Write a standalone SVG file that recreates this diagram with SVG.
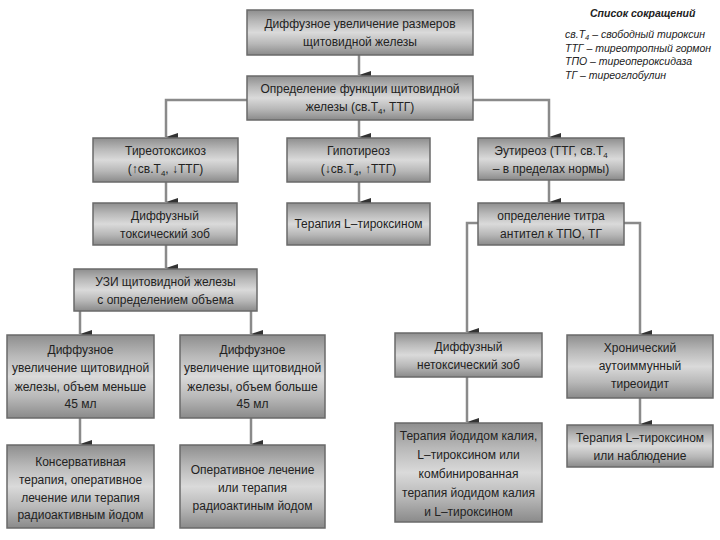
<svg xmlns="http://www.w3.org/2000/svg" width="720" height="540" viewBox="0 0 720 540">
<defs>
<linearGradient id="g" x1="0" y1="0" x2="0" y2="1">
<stop offset="0" stop-color="#8e8e8e"/>
<stop offset="0.25" stop-color="#b8b8b8"/>
<stop offset="0.5" stop-color="#dadada"/>
<stop offset="0.75" stop-color="#b8b8b8"/>
<stop offset="1" stop-color="#8a8a8a"/>
</linearGradient>
<marker id="ah" markerWidth="8" markerHeight="12" refX="4" refY="12" orient="auto-start-reverse" markerUnits="userSpaceOnUse" viewBox="0 0 8 12">
<path d="M0,0 L8,0 L4,12 Z" fill="#333"/>
</marker>
<style>
.box{fill:url(#g);stroke:#6a6a6a;stroke-width:1.5}
.t{font-family:"Liberation Sans",Arial,sans-serif;font-size:12px;fill:#222;text-anchor:middle}
.lg{font-family:"Liberation Sans",Arial,sans-serif;font-size:10.5px;font-style:italic;fill:#222}
.c{fill:none;stroke:#8a8a8a;stroke-width:2.5}
.s{font-size:8px}
</style>
</defs>
<rect width="720" height="540" fill="#fff"/>

<g id="connectors">
<path class="c" d="M359,55 V75" marker-end="url(#ah)"/>
<path class="c" d="M247,100 H166 V137" marker-end="url(#ah)"/>
<path class="c" d="M359,120 V137" marker-end="url(#ah)"/>
<path class="c" d="M473,100 H549 V137" marker-end="url(#ah)"/>
<path class="c" d="M166,182 V202" marker-end="url(#ah)"/>
<path class="c" d="M359,182 V202" marker-end="url(#ah)"/>
<path class="c" d="M549,180 V202" marker-end="url(#ah)"/>
<path class="c" d="M166,245 V268" marker-end="url(#ah)"/>
<path class="c" d="M80,311 V334" marker-end="url(#ah)"/>
<path class="c" d="M251,311 V334" marker-end="url(#ah)"/>
<path class="c" d="M80,418 V444" marker-end="url(#ah)"/>
<path class="c" d="M251,418 V444" marker-end="url(#ah)"/>
<path class="c" d="M478,223 H467 V332" marker-end="url(#ah)"/>
<path class="c" d="M624,223 H640 V334" marker-end="url(#ah)"/>
<path class="c" d="M467,377 V422" marker-end="url(#ah)"/>
<path class="c" d="M640,398 V424" marker-end="url(#ah)"/>
</g>

<g id="n1"><rect class="box" x="247" y="10" width="226" height="45"/>
<text class="t" x="360" y="28">Диффузное увеличение размеров</text>
<text class="t" x="360" y="46">щитовидной железы</text></g>

<g id="n2"><rect class="box" x="247" y="76" width="226" height="44"/>
<text class="t" x="360" y="93">Определение функции щитовидной</text>
<text class="t" x="360" y="111">железы (св.Т<tspan class="s" dy="3">4</tspan><tspan dy="-3">, ТТГ)</tspan></text></g>

<g id="n3"><rect class="box" x="93" y="138" width="145" height="44"/>
<text class="t" x="165.5" y="155">Тиреотоксикоз</text>
<text class="t" x="165.5" y="173">(↑св.Т<tspan class="s" dy="3">4</tspan><tspan dy="-3">, ↓ТТГ)</tspan></text></g>

<g id="n4"><rect class="box" x="287" y="138" width="143" height="44"/>
<text class="t" x="358.5" y="155">Гипотиреоз</text>
<text class="t" x="358.5" y="173">(↓св.Т<tspan class="s" dy="3">4</tspan><tspan dy="-3">, ↑ТТГ)</tspan></text></g>

<g id="n5"><rect class="box" x="478" y="138" width="146" height="42"/>
<text class="t" x="551" y="155">Эутиреоз (ТТГ, св.Т<tspan class="s" dy="3">4</tspan></text>
<text class="t" x="551" y="173">– в пределах нормы)</text></g>

<g id="n6"><rect class="box" x="93" y="203" width="144" height="42"/>
<text class="t" x="165" y="220">Диффузный</text>
<text class="t" x="165" y="238">токсический зоб</text></g>

<g id="n7"><rect class="box" x="287" y="203" width="143" height="42"/>
<text class="t" x="358.5" y="228">Терапия L–тироксином</text></g>

<g id="n8"><rect class="box" x="478" y="203" width="146" height="42"/>
<text class="t" x="551" y="220">определение титра</text>
<text class="t" x="551" y="238">антител к ТПО, ТГ</text></g>

<g id="n9"><rect class="box" x="74" y="269" width="183" height="42"/>
<text class="t" x="165.5" y="286">УЗИ щитовидной железы</text>
<text class="t" x="165.5" y="304">с определением объема</text></g>

<g id="n10"><rect class="box" x="7" y="335" width="147" height="83"/>
<text class="t" x="80.5" y="354">Диффузное</text>
<text class="t" x="80.5" y="372">увеличение щитовидной</text>
<text class="t" x="80.5" y="391">железы, объем меньше</text>
<text class="t" x="80.5" y="408">45 мл</text></g>

<g id="n11"><rect class="box" x="180" y="335" width="145" height="83"/>
<text class="t" x="252.5" y="354">Диффузное</text>
<text class="t" x="252.5" y="372">увеличение щитовидной</text>
<text class="t" x="252.5" y="391">железы, объем больше</text>
<text class="t" x="252.5" y="408">45 мл</text></g>

<g id="n12"><rect class="box" x="7" y="445" width="147" height="83"/>
<text class="t" x="80.5" y="466">Консервативная</text>
<text class="t" x="80.5" y="484">терапия, оперативное</text>
<text class="t" x="80.5" y="502">лечение или терапия</text>
<text class="t" x="80.5" y="519">радиоактивным йодом</text></g>

<g id="n13"><rect class="box" x="180" y="445" width="145" height="83"/>
<text class="t" x="252.5" y="474">Оперативное лечение</text>
<text class="t" x="252.5" y="492">или терапия</text>
<text class="t" x="252.5" y="510">радиоактиным йодом</text></g>

<g id="n14"><rect class="box" x="395" y="333" width="147" height="44"/>
<text class="t" x="468.5" y="351">Диффузный</text>
<text class="t" x="468.5" y="369">нетоксический зоб</text></g>

<g id="n15"><rect class="box" x="395" y="423" width="147" height="99"/>
<text class="t" x="468.5" y="440">Терапия йодидом калия,</text>
<text class="t" x="468.5" y="459">L–тироксином или</text>
<text class="t" x="468.5" y="478">комбинированная</text>
<text class="t" x="468.5" y="497">терапия йодидом калия</text>
<text class="t" x="468.5" y="516">и L–тироксином</text></g>

<g id="n16"><rect class="box" x="567" y="335" width="146" height="63"/>
<text class="t" x="640" y="352">Хронический</text>
<text class="t" x="640" y="370">аутоиммунный</text>
<text class="t" x="640" y="388">тиреоидит</text></g>

<g id="n17"><rect class="box" x="567" y="425" width="146" height="42"/>
<text class="t" x="640" y="442">Терапия L–тироксином</text>
<text class="t" x="640" y="460">или наблюдение</text></g>

<g id="legend">
<text class="lg" x="590" y="17" font-weight="bold">Список сокращений</text>
<text class="lg" x="565" y="38">св.Т<tspan font-size="7.5px" dy="2">4</tspan><tspan dy="-2"> – свободный тироксин</tspan></text>
<text class="lg" x="565" y="52">ТТГ – тиреотропный гормон</text>
<text class="lg" x="565" y="65">ТПО – тиреопероксидаза</text>
<text class="lg" x="565" y="79">ТГ – тиреоглобулин</text>
</g>
</svg>
